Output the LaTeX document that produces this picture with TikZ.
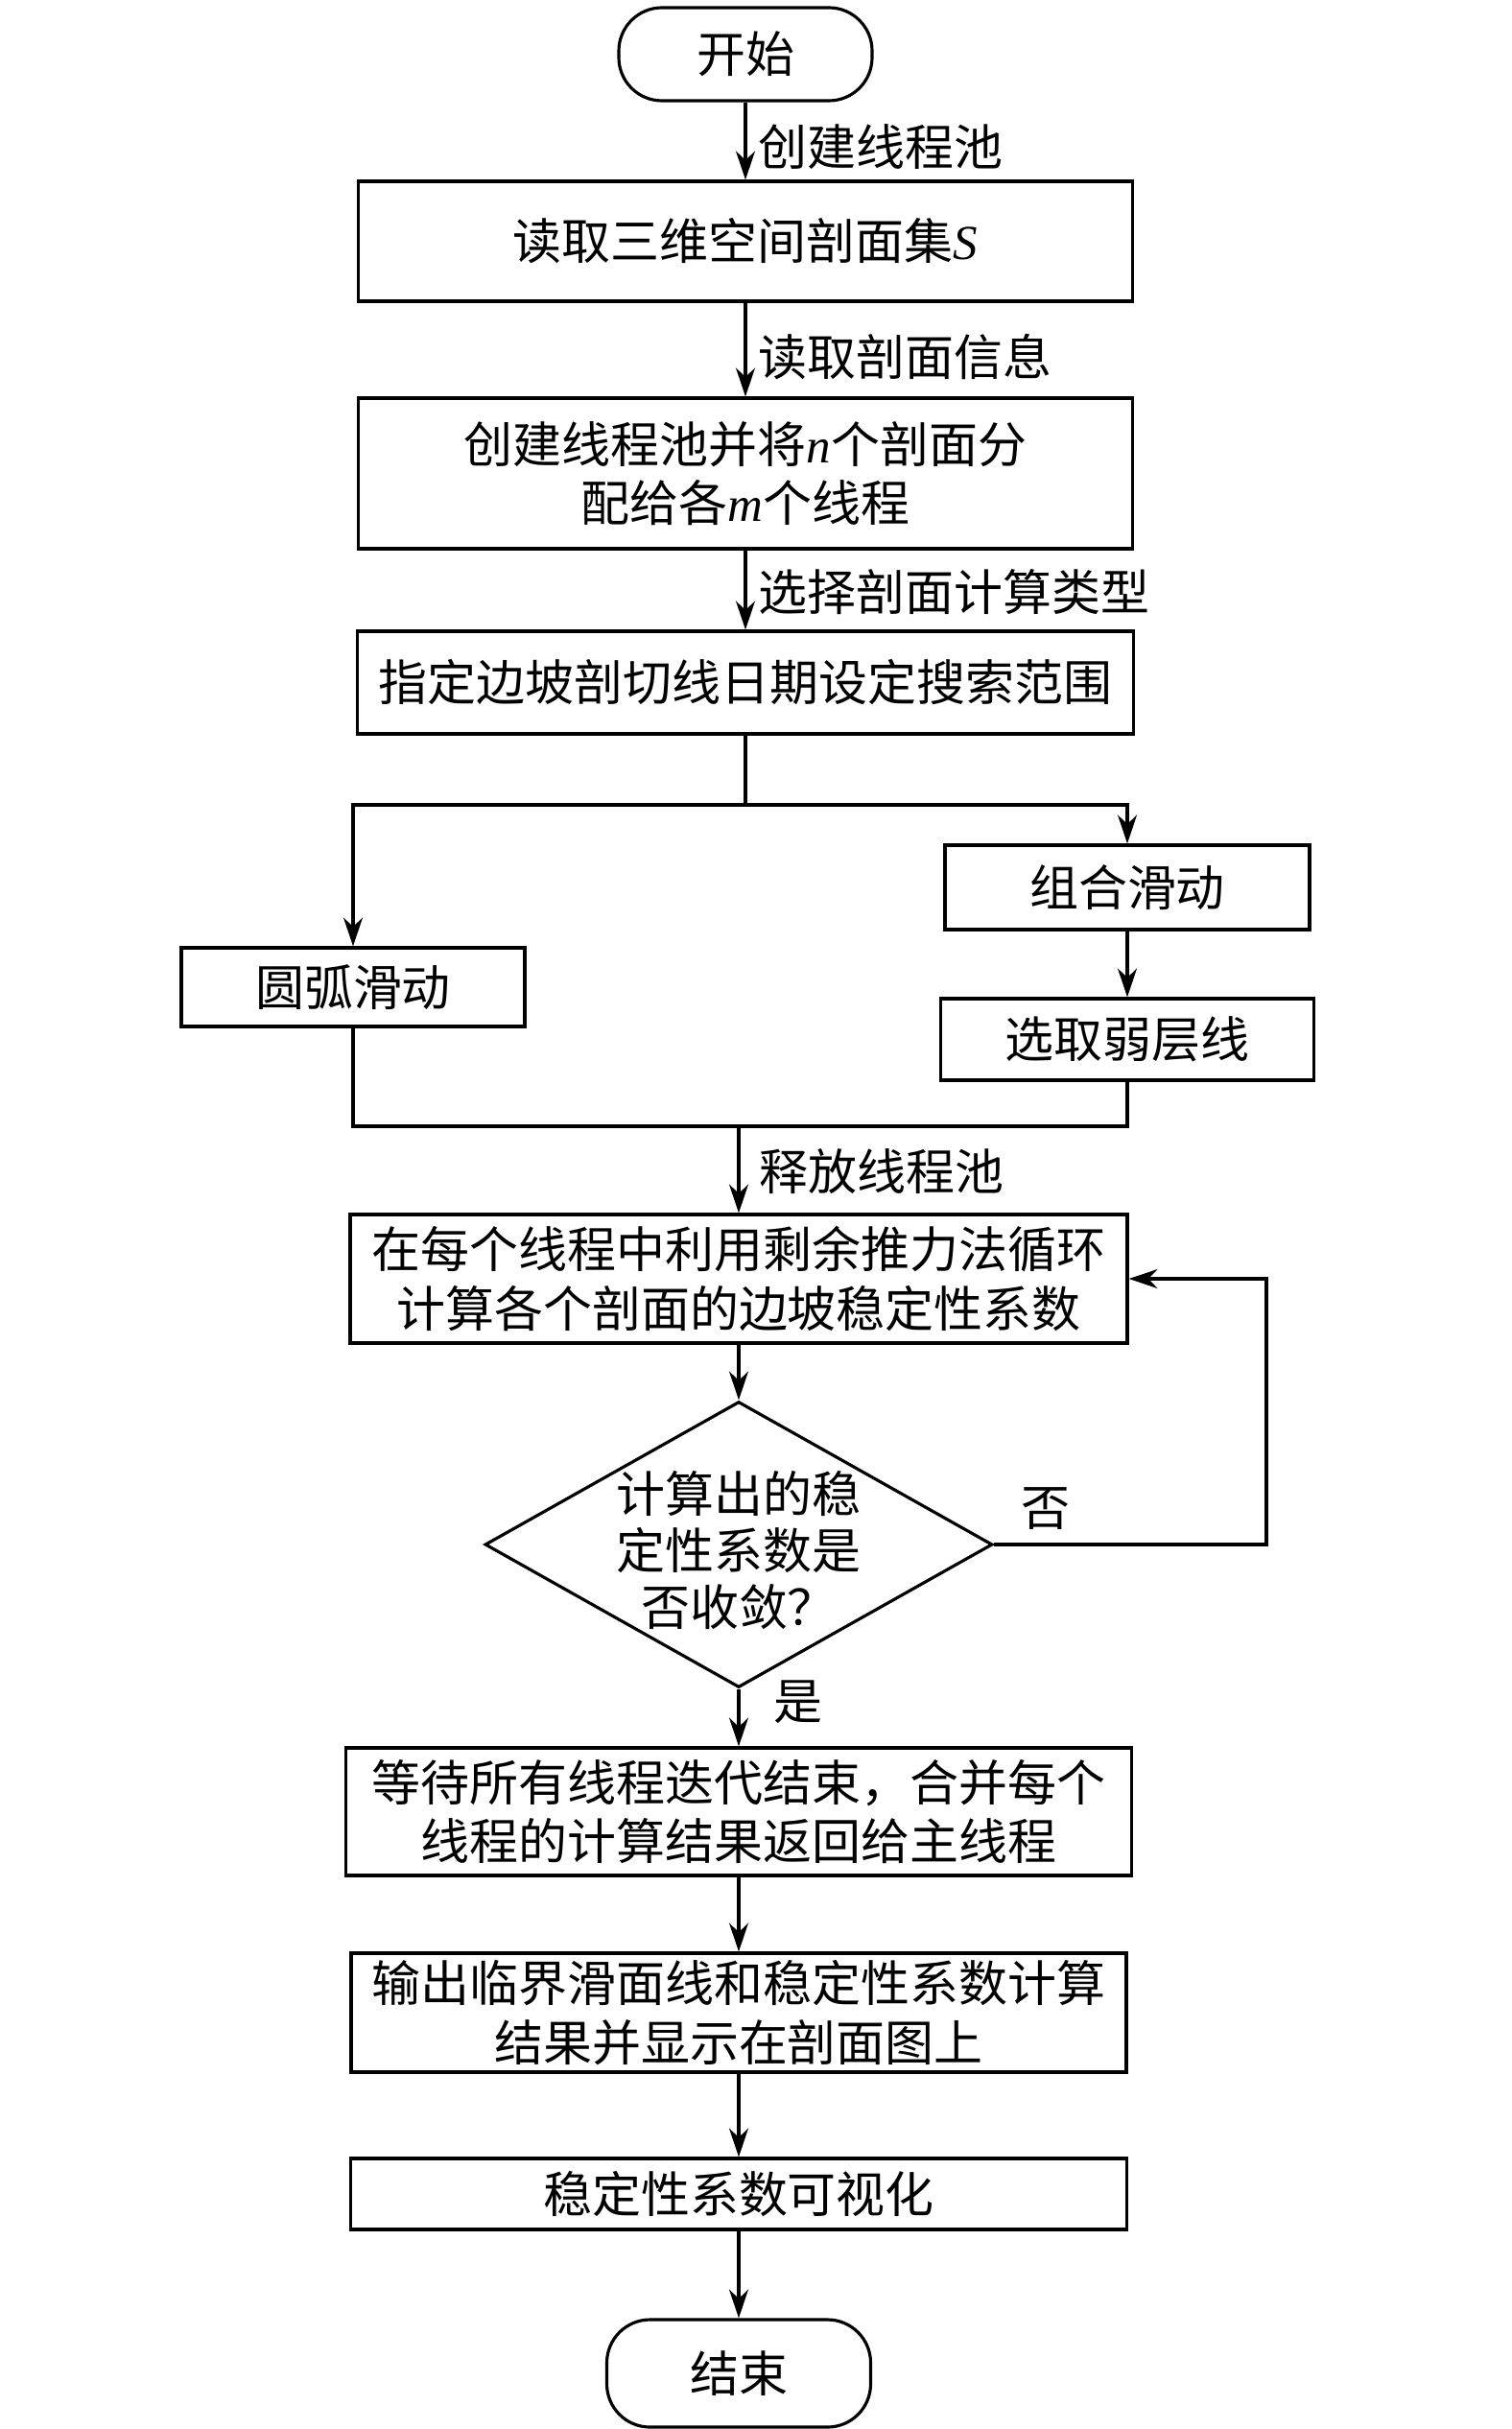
\documentclass[tikz,border=0pt]{standalone}
\usepackage{fontspec}
\setmainfont{Liberation Serif}
\newfontfamily\cjk{Noto Sans CJK SC}
\newfontfamily\lat{Liberation Serif}
\usetikzlibrary{arrows.meta,shapes.geometric}
\begin{document}
\begin{tikzpicture}
  [>={Stealth[length=3mm,width=2mm]},line width=0.9pt,
   every node/.style={font=\cjk\fontsize{14.5}{17.5}\selectfont,align=center,inner sep=0pt},
   box/.style={draw,rectangle},
   term/.style={draw,rounded corners=0.45cm},
   decision/.style={draw,diamond}]
  \useasboundingbox (0,0) rectangle (15.75,-25.32);
  \node[term,minimum width=2.64cm,minimum height=0.97cm] (start) at (7.77,-0.565) {开始};
  \node[box,minimum width=8.07cm,minimum height=1.25cm] (read) at (7.77,-2.515) {读取三维空间剖面集{\lat\itshape S}};
  \node[box,minimum width=8.07cm,minimum height=1.57cm] (pool) at (7.77,-4.935) {创建线程池并将{\lat\itshape n}个剖面分\\配给各{\lat\itshape m}个线程};
  \node[box,minimum width=8.09cm,minimum height=1.07cm] (range) at (7.77,-7.115) {指定边坡剖切线日期设定搜索范围};
  \coordinate (fork) at (7.77,-8.39);
  \node[box,minimum width=3.58cm,minimum height=0.82cm] (arc) at (3.68,-10.29) {圆弧滑动};
  \node[box,minimum width=3.80cm,minimum height=0.88cm] (comb) at (11.75,-9.25) {组合滑动};
  \node[box,minimum width=3.89cm,minimum height=0.85cm] (weak) at (11.75,-10.835) {选取弱层线};
  \coordinate (join) at (7.70,-11.74);
  \node[box,minimum width=8.10cm,minimum height=1.34cm] (loop) at (7.70,-13.33) {在每个线程中利用剩余推力法循环\\计算各个剖面的边坡稳定性系数};
  \node[decision,minimum width=5.29cm,minimum height=2.98cm] (conv) at (7.70,-16.10) {};
  \node[font=\cjk\fontsize{14.5}{16.8}\selectfont] (convtxt) at (7.70,-16.16) {计算出的稳\\定性系数是\\否收敛？};
  \coordinate (back) at (13.20,-16.10);
  \node[box,minimum width=8.19cm,minimum height=1.33cm] (merge) at (7.70,-18.885) {等待所有线程迭代结束，合并每个\\线程的计算结果返回给主线程};
  \node[box,minimum width=8.08cm,minimum height=1.24cm] (out) at (7.70,-20.98) {输出临界滑面线和稳定性系数计算\\结果并显示在剖面图上};
  \node[box,minimum width=8.09cm,minimum height=0.74cm] (vis) at (7.70,-22.87) {稳定性系数可视化};
  \node[term,minimum width=2.75cm,minimum height=1.12cm] (end) at (7.70,-24.74) {结束};

  \draw[->] (start) -- node[right=0.12cm,pos=0.57] {创建线程池} (read);
  \draw[->] (read) -- node[right=0.12cm,pos=0.58] {读取剖面信息} (pool);
  \draw[->] (pool) -- node[right=0.12cm,pos=0.52] {选择剖面计算类型} (range);
  \draw (range) -- (fork);
  \draw[->] (fork) -| (arc);
  \draw[->] (fork) -| (comb);
  \draw[->] (comb) -- (weak);
  \draw (arc) |- (join);
  \draw (weak) |- (join);
  \draw[->] (join) -- node[right=0.2cm,pos=0.52] {释放线程池} (loop);
  \draw[->] (loop) -- (conv);
  \draw[->] (conv.east) -- node[above=0.14cm,pos=0.19] {否} (back) |- (loop.east);
  \draw[->] (conv) -- node[right=0.35cm,pos=0.22] {是} (merge);
  \draw[->] (merge) -- (out);
  \draw[->] (out) -- (vis);
  \draw[->] (vis) -- (end);

\end{tikzpicture}
\end{document}
